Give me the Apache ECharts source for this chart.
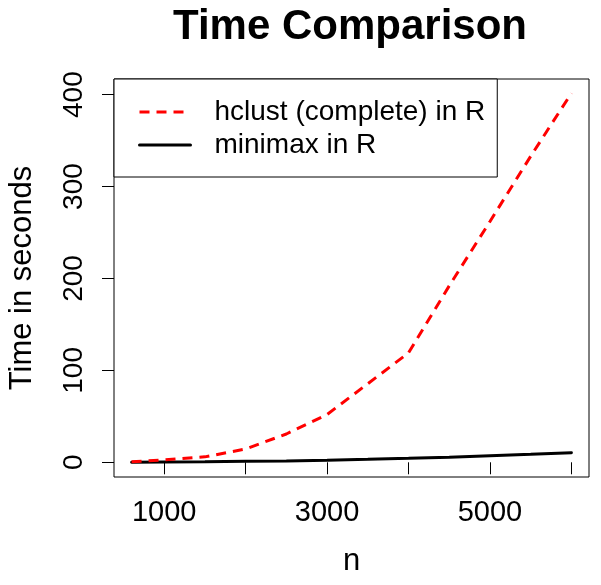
<!DOCTYPE html>
<html>
<head>
<meta charset="utf-8">
<script src="https://cdn.jsdelivr.net/npm/echarts@6/dist/echarts.min.js"></script>
<style>
  html, body { margin: 0; padding: 0; background: #fff; }
  #chart { width: 601px; height: 585px; }
</style>
</head>
<body>
<div id="chart"></div>
<script>
// ---- data ----
var nValues = [600, 1000, 1500, 2000, 2500, 3000, 3500, 4000, 4500, 5000, 5500, 6000];
var hclustTimes = [0.5, 2.6, 5.9, 14.5, 30.8, 52, 85.5, 119, 192, 262, 333, 401.5];
var minimaxTimes = [0.1, 0.3, 0.6, 1.0, 1.5, 2.2, 3.2, 4.3, 5.6, 7.2, 8.8, 10.5];
var xTicks = [1000, 2000, 3000, 4000, 5000, 6000];
var xTickLabels = [1000, 3000, 5000];
var yTicks = [0, 100, 200, 300, 400];
var seriesNames = ['hclust (complete) in R', 'minimax in R'];
var titleText = 'Time Comparison';
var xTitle = 'n';
var yTitle = 'Time in seconds';

function pairs(xs, ys) {
  return xs.map(function (x, i) { return [x, ys[i]]; });
}

var FONT = '"Liberation Sans", Arial, Helvetica, sans-serif';
var chart = echarts.init(document.getElementById('chart'), null, { renderer: 'canvas' });
chart.setOption({
  animation: false,
  backgroundColor: '#fff',
  title: {
    text: titleText,
    left: 350,
    top: 6,
    padding: 0,
    textAlign: 'center',
    textStyle: { fontFamily: FONT, fontSize: 42, fontWeight: 'bold', color: '#000' }
  },
  grid: {
    left: 114, right: 12, top: 79, bottom: 108,
    show: true, borderColor: '#000', borderWidth: 1,
    containLabel: false, outerBoundsMode: 'none'
  },
  legend: {
    orient: 'vertical',
    left: 114, top: 79,
    padding: [19, 12, 18, 24],
    itemGap: 5,
    itemWidth: 51,
    itemHeight: 14,
    backgroundColor: '#fff',
    borderColor: '#000',
    borderWidth: 1,
    borderRadius: 0,
    z: 10,
    data: seriesNames,
    itemStyle: { opacity: 0 },
    lineStyle: { width: 3 },
    textStyle: { fontFamily: FONT, fontSize: 28, color: '#000', lineHeight: 28, padding: [0, 0, 0, 19] }
  },
  xAxis: {
    type: 'value',
    min: 384, max: 6216,
    name: xTitle,
    nameLocation: 'middle',
    nameGap: 69,
    nameTextStyle: { fontFamily: FONT, fontSize: 31, color: '#000' },
    axisLine: { show: false },
    splitLine: { show: false },
    axisTick: { show: true, inside: false, length: 12, customValues: xTicks, lineStyle: { color: '#000', width: 1 } },
    axisLabel: {
      show: true, customValues: xTickLabels, margin: 21, fontFamily: FONT, fontSize: 29, color: '#000',
      formatter: function (v) { return String(v); }
    }
  },
  yAxis: {
    type: 'value',
    min: -16, max: 417,
    name: yTitle,
    nameLocation: 'middle',
    nameGap: 76,
    nameTextStyle: { fontFamily: FONT, fontSize: 31, color: '#000' },
    axisLine: { show: false },
    splitLine: { show: false },
    axisTick: { show: true, inside: false, length: 12, customValues: yTicks, lineStyle: { color: '#000', width: 1 } },
    axisLabel: {
      show: true, customValues: yTicks, rotate: 90, margin: 26, fontFamily: FONT, fontSize: 28, color: '#000',
      formatter: function (v) { return String(v); }
    }
  },
  series: [
    {
      name: seriesNames[0],
      type: 'line',
      data: pairs(nValues, hclustTimes),
      symbol: 'none',
      smooth: false,
      color: '#ff0000',
      lineStyle: { color: '#ff0000', width: 3, type: [10, 7] },
      z: 3
    },
    {
      name: seriesNames[1],
      type: 'line',
      data: pairs(nValues, minimaxTimes),
      symbol: 'none',
      smooth: false,
      color: '#000',
      lineStyle: { color: '#000', width: 3, type: 'solid', cap: 'round' },
      z: 2
    }
  ]
});
</script>
</body>
</html>
